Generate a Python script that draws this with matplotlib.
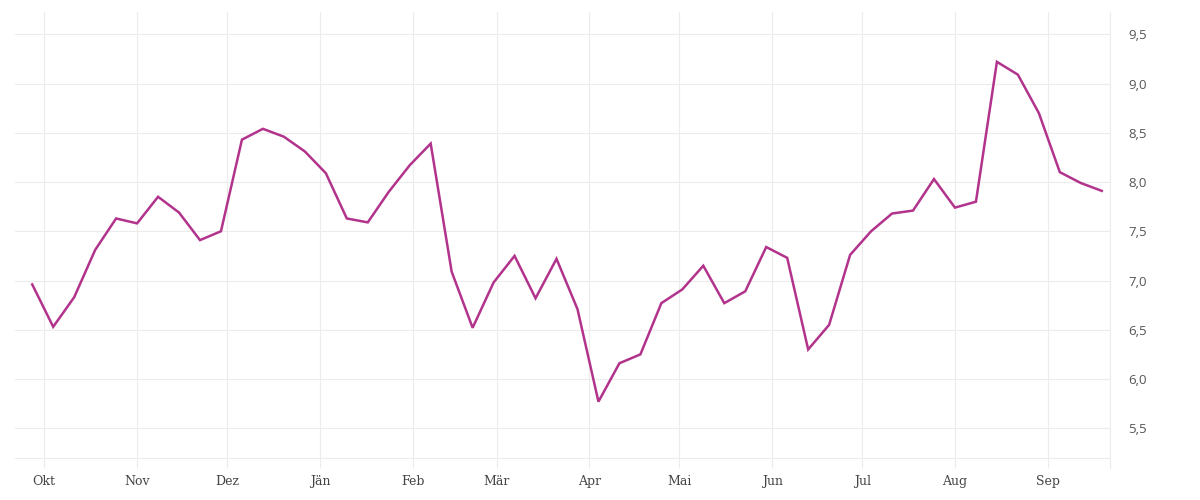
import numpy as np
import pandas as pd
import matplotlib
matplotlib.use("Agg")
import matplotlib.pyplot as plt
from matplotlib.lines import Line2D

# weekly values
dates = pd.date_range("2022-09-27", periods=52, freq="7D")
values = [6.96, 6.53, 6.83, 7.31, 7.63, 7.58, 7.85, 7.69, 7.41, 7.50,
          8.43, 8.54, 8.46, 8.31, 8.09, 7.63, 7.59, 7.90, 8.17, 8.39,
          7.09, 6.52, 6.98, 7.25, 6.82, 7.22, 6.71, 5.77, 6.16, 6.25,
          6.77, 6.91, 7.15, 6.77, 6.89, 7.34, 7.23, 6.30, 6.55, 7.26,
          7.50, 7.68, 7.71, 8.03, 7.74, 7.80, 9.22, 9.09, 8.70, 8.10,
          7.99, 7.91]

month_ticks = pd.date_range("2022-10-01", periods=12, freq="MS")
month_labels = ["Okt", "Nov", "Dez", "Jän", "Feb", "Mär", "Apr", "Mai",
                "Jun", "Jul", "Aug", "Sep"]
y_ticks = [5.5, 6.0, 6.5, 7.0, 7.5, 8.0, 8.5, 9.0, 9.5]

grid_col = "#ececec"
line_col = "#b2338c"

fig = plt.figure(figsize=(12, 5), dpi=100)
ax = fig.add_axes([0.0125, 0.0834, 0.9125, 0.8926])

ax.plot(dates, values, color=line_col, lw=1.8, solid_joinstyle="miter", zorder=3)

ax.set_xlim(pd.Timestamp("2022-09-21 06:00"), pd.Timestamp("2023-09-21 18:00"))
ax.set_ylim(5.195, 9.726)

ax.set_xticks(month_ticks)
ax.set_xticklabels(month_labels, family="DejaVu Serif", fontsize=9, color="#444444")
ax.tick_params(axis="x", length=7.2, width=0.8, color=grid_col, pad=5)

ax.yaxis.tick_right()
ax.set_yticks(y_ticks)
ax.set_yticklabels([f"{v:.1f}".replace(".", ",") for v in y_ticks],
                   family="Open Sans", fontsize=9.5, color="#555555")
ax.tick_params(axis="y", length=0, pad=13)

ax.grid(True, color=grid_col, lw=0.8, zorder=0)
ax.set_axisbelow(True)

for s in ["top", "left", "right"]:
    ax.spines[s].set_visible(False)
ax.spines["bottom"].set_color(grid_col)
ax.spines["bottom"].set_linewidth(0.8)
# right edge line, running down past the bottom like the ticks
ax.add_line(Line2D([1, 1], [-10 / 446, 1], transform=ax.transAxes,
                   color=grid_col, lw=0.8, clip_on=False))

fig.savefig("out.png", dpi=100)
